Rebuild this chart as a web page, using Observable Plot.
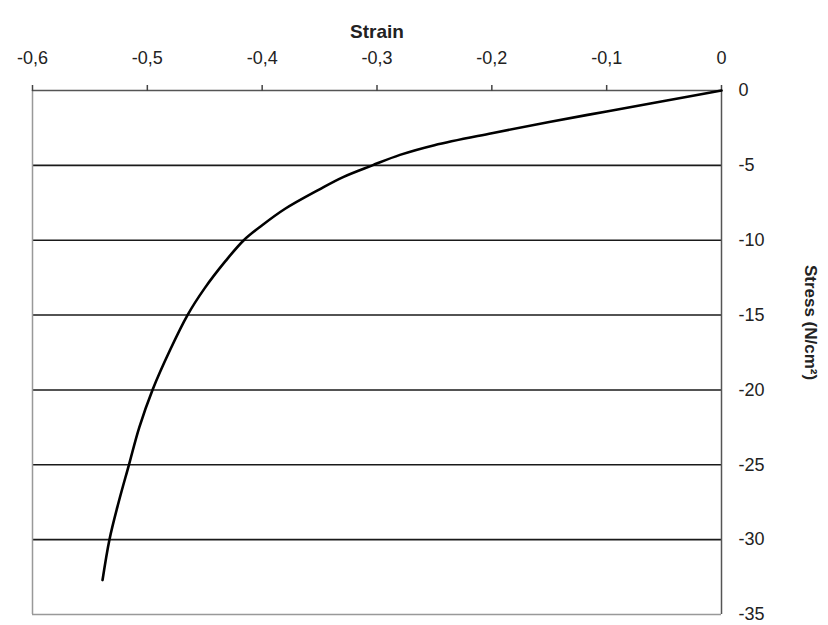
<!DOCTYPE html>
<html>
<head>
<meta charset="utf-8">
<script src="https://cdn.jsdelivr.net/npm/d3@7"></script>
<script src="https://cdn.jsdelivr.net/npm/@observablehq/plot@0.6"></script>
<style>
  html, body { margin: 0; padding: 0; background: #fff; }
  svg { display: block; }
</style>
</head>
<body>
<div id="chart"></div>
<script>
// Curve (strain, stress in N/cm²)
const strain = [0, -0.05, -0.1, -0.15, -0.2, -0.25, -0.28, -0.304, -0.33, -0.35, -0.38, -0.40, -0.416, -0.432, -0.45, -0.465, -0.48, -0.4955, -0.507, -0.516, -0.525, -0.533, -0.539];
const stress = [0, -0.7, -1.4, -2.1, -2.85, -3.65, -4.3, -5.0, -5.8, -6.6, -7.9, -9.0, -10.0, -11.4, -13.2, -15.0, -17.3, -20.0, -22.5, -25.0, -27.5, -30.0, -32.7];
const strainTicks = [-0.6, -0.5, -0.4, -0.3, -0.2, -0.1, 0];
const stressTicks = [0, -5, -10, -15, -20, -25, -30, -35];
const gridStress = [-5, -10, -15, -20, -25, -30];
const xTitle = "Strain";
const yTitle = "Stress (N/cm²)";

const data = strain.map((s, i) => ({strain: s, stress: stress[i]}));
const fmt = d => d === 0 ? "0" : String(+d.toFixed(1)).replace(".", ",");

const chart = Plot.plot({
  width: 828,
  height: 625,
  marginLeft: 32,
  marginRight: 107,
  marginTop: 90,
  marginBottom: 11,
  style: {fontFamily: "'Liberation Sans', Arial, sans-serif", fontSize: "18px", color: "#222", background: "#fff"},
  x: {domain: [-0.6, 0]},
  y: {domain: [-35, 0]},
  marks: [
    Plot.ruleY(gridStress, {stroke: "#1a1a1a", strokeWidth: 1.6}),
    Plot.ruleX([-0.6], {stroke: "#999", strokeWidth: 1.5}),
    Plot.ruleY([-35], {stroke: "#999", strokeWidth: 1.5}),
    Plot.ruleY([0], {stroke: "#555", strokeWidth: 1.5}),
    Plot.ruleX([0], {stroke: "#555", strokeWidth: 1.5}),
    Plot.axisX({anchor: "top", ticks: strainTicks, tickFormat: fmt, tickSize: 6, tickPadding: 21, stroke: "#444", strokeWidth: 1.5, fontSize: 18, label: null}),
    Plot.axisY({anchor: "right", ticks: stressTicks, tickFormat: d => String(d), tickSize: 0, tickPadding: 17, textAnchor: "start", fontSize: 18, label: null}),
    Plot.line(data, {x: "strain", y: "stress", stroke: "#000", strokeWidth: 2.6, curve: "catmull-rom"}),
    Plot.text([xTitle], {frameAnchor: "top", dy: -66, fontWeight: "bold", fontSize: 19, fill: "#222"}),
    Plot.text([yTitle], {frameAnchor: "right", textAnchor: "middle", dx: 89, dy: -30, rotate: 90, fontWeight: "bold", fontSize: 17, fill: "#222"})
  ]
});
document.getElementById("chart").appendChild(chart);
</script>
</body>
</html>
